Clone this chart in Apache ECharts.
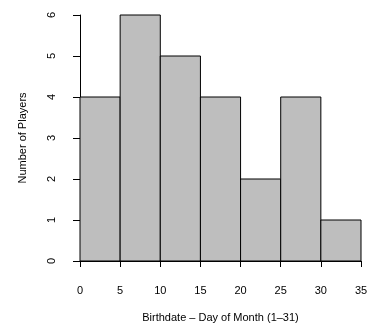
<!DOCTYPE html>
<html><head><meta charset="utf-8">
<script src="https://cdn.jsdelivr.net/npm/echarts@6/dist/echarts.min.js"></script>
<style>html,body{margin:0;padding:0;background:#fff}#c{width:372px;height:324px}</style>
</head><body><div id="c"></div>
<script>
const binStarts = [0, 5, 10, 15, 20, 25, 30];
const binEnds = [5, 10, 15, 20, 25, 30, 35];
const counts = [4, 6, 5, 4, 2, 4, 1];
const xTitle = 'Birthdate \u2013 Day of Month (1\u201331)';
const yTitle = 'Number of Players';

const data = binStarts.map((s, i) => [s, binEnds[i], counts[i]]);
const font = 'Liberation Sans, Arial, sans-serif';
const chart = echarts.init(document.getElementById('c'), null, {renderer: 'canvas'});
chart.setOption({
  animation: false,
  backgroundColor: '#fff',
  grid: {left: 80, right: 11, top: 15, bottom: 63, containLabel: false, outerBoundsMode: 'none'},
  xAxis: {
    type: 'value', min: 0, max: 35, interval: 5, offset: 10,
    name: xTitle, nameLocation: 'middle', nameGap: 41,
    nameTextStyle: {color: '#000', fontFamily: font, fontSize: 11},
    axisLine: {show: true, lineStyle: {color: '#000', width: 1}},
    axisTick: {show: true, length: 6, lineStyle: {color: '#000'}},
    axisLabel: {color: '#000', fontFamily: font, fontSize: 11, margin: 14},
    splitLine: {show: false}
  },
  yAxis: {
    type: 'value', min: 0, max: 6, interval: 1, offset: 11,
    name: yTitle, nameLocation: 'middle', nameGap: 41,
    nameTextStyle: {color: '#000', fontFamily: font, fontSize: 11},
    axisLine: {show: true, lineStyle: {color: '#000', width: 1}},
    axisTick: {show: true, length: 7, lineStyle: {color: '#000'}},
    axisLabel: {color: '#000', fontFamily: font, fontSize: 11, rotate: 90, margin: 12},
    splitLine: {show: false}
  },
  series: [{
    type: 'custom',
    data: data,
    renderItem: function (params, api) {
      const p0 = api.coord([api.value(0), api.value(2)]);
      const p1 = api.coord([api.value(1), 0]);
      return {
        type: 'rect',
        shape: {x: p0[0], y: p0[1], width: p1[0] - p0[0], height: p1[1] - p0[1]},
        style: {fill: '#bebebe', stroke: '#000', lineWidth: 1}
      };
    }
  }]
});
</script></body></html>
